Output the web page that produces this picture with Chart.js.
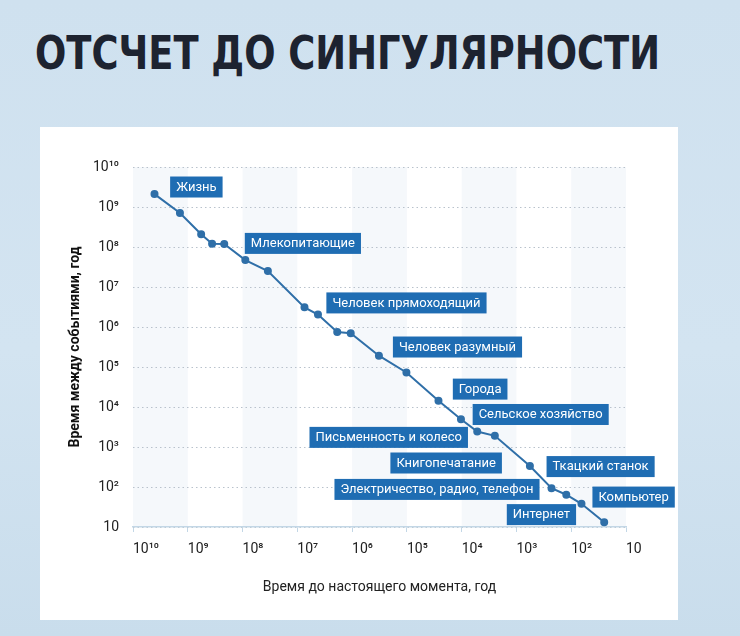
<!DOCTYPE html>
<html lang="ru">
<head>
<meta charset="utf-8">
<script src="https://cdn.jsdelivr.net/npm/chart.js@4"></script>
<style>
  html, body { margin: 0; padding: 0; }
  body {
    width: 740px; height: 636px; overflow: hidden; position: relative;
    background: linear-gradient(180deg, #cfe1ef 0%, #d3e4f1 55%, #c9ddec 100%);
  }
  h1 {
    position: absolute; left: 35px; top: 30px; margin: 0; line-height: 1;
    font-family: 'DejaVu Sans Condensed', 'Liberation Sans Narrow', sans-serif;
    font-weight: bold; font-size: 46px; color: #1d2330; white-space: nowrap;
    transform-origin: left top;
  }
  .card {
    position: absolute; left: 40px; top: 127px; width: 638px; height: 493px;
    background: #ffffff;
  }
</style>
</head>
<body>
<h1 id="title">ОТСЧЕТ ДО СИНГУЛЯРНОСТИ</h1>
<div class="card"><canvas id="singularity" width="638" height="493"></canvas></div>
<script>
/* global Chart */

// years before present (x) and years between events (y)
const timeBefore = [4.05e9, 1.39e9, 5.7e8, 3.6e8, 2.16e8, 8.9e7, 3.45e7, 7.4e6, 4.2e6, 1.87e6, 1.06e6,
  3.24e5, 1.02e5, 2.65e4, 1.03e4, 5.2e3, 2.48e3, 568, 229, 123, 65, 25]
const timeBetween = [2.1e9, 7.1e8, 2.08e8, 1.21e8, 1.19e8, 4.7e7, 2.5e7, 3.1e6, 2.05e6, 7.5e5, 7.0e5,
  1.92e5, 7.3e4, 1.43e4, 4.95e3, 2.44e3, 1.9e3, 335, 93, 64, 38, 13.1]

const decades = [10, 1e2, 1e3, 1e4, 1e5, 1e6, 1e7, 1e8, 1e9, 1e10]
const decadeLabels = ['10', '10²', '10³', '10⁴', '10⁵', '10⁶', '10⁷', '10⁸', '10⁹', '10¹⁰']

// callouts: text and the data point (years before, years between) where the box starts
const eventNames = ['Жизнь', 'Млекопитающие', 'Человек прямоходящий', 'Человек разумный', 'Города',
  'Сельское хозяйство', 'Письменность и колесо', 'Книгопечатание', 'Ткацкий станок',
  'Электричество, радио, телефон', 'Компьютер', 'Интернет']
const eventAtBefore = [2.1e9, 9.1e7, 2.95e6, 1.8e5, 1.45e4, 6.3e3, 6.0e6, 2.0e5, 282, 2.1e6, 41, 1.5e3]
const eventAtBetween = [3.16e9, 1.23e8, 4.0e6, 3.16e5, 2.8e4, 6.5e3, 1.74e3, 398, 324, 87, 56, 20.4]

// squeeze the title to the width it has on the slide
const title = document.getElementById('title')
title.style.transform = 'scaleX(' + (625 / title.getBoundingClientRect().width) + ')'

const bands = {
  id: 'bands',
  beforeDraw (chart) {
    const { ctx, chartArea, scales } = chart
    ctx.save()
    ctx.fillStyle = '#f5f8fb'
    for (let i = 0; i < decades.length - 1; i += 2) {
      const a = scales.x.getPixelForValue(decades[i])
      const b = scales.x.getPixelForValue(decades[i + 1])
      ctx.fillRect(Math.min(a, b), chartArea.top, Math.abs(b - a), chartArea.bottom - chartArea.top)
    }
    ctx.restore()
  }
}

const callouts = {
  id: 'callouts',
  afterDatasetsDraw (chart) {
    const { ctx, scales } = chart
    ctx.save()
    ctx.font = '13px Roboto'
    ctx.textBaseline = 'middle'
    eventNames.forEach((name, i) => {
      const x = scales.x.getPixelForValue(eventAtBefore[i])
      const y = scales.y.getPixelForValue(eventAtBetween[i])
      const w = ctx.measureText(name).width + 12
      ctx.fillStyle = '#1f6db3'
      ctx.fillRect(x, y - 10.5, w, 21)
      ctx.fillStyle = '#ffffff'
      ctx.fillText(name, x + 6, y + 0.5)
    })
    ctx.restore()
  }
}

const ctx = document.getElementById('singularity').getContext('2d')
// eslint-disable-next-line no-unused-vars
const chart = new Chart(ctx, {
  type: 'line',
  data: {
    datasets: [{
      data: timeBefore.map((t, i) => ({ x: t, y: timeBetween[i] })),
      borderColor: '#2f6fa8',
      backgroundColor: '#2f6fa8',
      borderWidth: 2,
      pointRadius: 3,
      pointHoverRadius: 3,
      tension: 0
    }]
  },
  options: {
    responsive: false,
    animation: false,
    layout: { padding: { top: 40, right: 52, left: 0, bottom: 0 } },
    plugins: { legend: { display: false }, tooltip: { enabled: false } },
    scales: {
      x: {
        type: 'logarithmic',
        reverse: true,
        min: 10,
        max: 1e10,
        afterBuildTicks: (s) => { s.ticks = decades.map(v => ({ value: v })) },
        afterFit: (s) => { s.height = 93 },
        ticks: {
          align: 'start',
          padding: 9,
          color: '#222222',
          font: { family: 'Roboto', size: 14 },
          maxRotation: 0,
          autoSkip: false,
          callback: (v) => decadeLabels[decades.indexOf(v)]
        },
        grid: { drawOnChartArea: false, drawTicks: true, tickLength: 5, color: '#c3d7e6' },
        border: { display: true, color: '#c3d7e6', width: 1.5 },
        title: {
          display: true,
          text: 'Время до настоящего момента, год',
          color: '#222222',
          font: { family: 'Roboto', size: 14 },
          padding: { top: 0, bottom: 24 }
        }
      },
      y: {
        type: 'logarithmic',
        min: 10,
        max: 1e10,
        afterBuildTicks: (s) => { s.ticks = decades.map(v => ({ value: v })) },
        afterFit: (s) => { s.width = 93 },
        ticks: {
          padding: 14,
          color: '#222222',
          font: { family: 'Roboto', size: 14 },
          autoSkip: false,
          callback: (v) => decadeLabels[decades.indexOf(v)]
        },
        grid: { drawTicks: false, color: '#b9c2cc', lineWidth: 1 },
        border: { display: false, dash: [1.5, 3] },
        title: {
          display: true,
          text: 'Время между событиями, год',
          color: '#111111',
          font: { family: 'Roboto', size: 14, weight: 'bold' },
          padding: { top: 27, bottom: 0 }
        }
      }
    }
  },
  plugins: [bands, callouts]
})
</script>
</body>
</html>
